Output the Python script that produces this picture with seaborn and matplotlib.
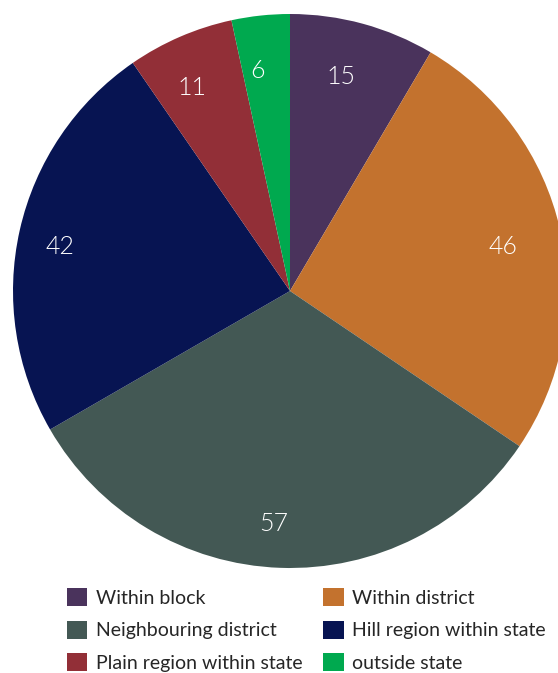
import matplotlib
matplotlib.use("Agg")
import seaborn as sns
from matplotlib import pyplot as plt
from matplotlib.patches import Patch

categories = [
    "Within block",
    "Within district",
    "Neighbouring district",
    "Hill region within state",
    "Plain region within state",
    "outside state",
]
values = [15, 46, 57, 42, 11, 6]
colors = ["#4a335c", "#c3722e", "#435854", "#071452", "#922f37", "#00a94f"]

sns.set_theme(style="white")
plt.rcParams["font.family"] = ["Lato", "DejaVu Sans"]

fig = plt.figure(figsize=(5.58, 6.73), dpi=100)
ax = fig.add_axes([13 / 558, 105 / 673, 554 / 558, 554 / 673])
wedges, texts = ax.pie(
    values,
    colors=sns.color_palette(colors),
    startangle=90,
    counterclock=False,
    labels=[str(v) for v in values],
    labeldistance=0.82,
    textprops={"color": "white", "fontsize": 18, "fontweight": 300},
    wedgeprops={"linewidth": 0},
    radius=1,
)
# nudge value labels slightly left/down like the original
for t in texts:
    x, y = t.get_position()
    t.set_position((x - 0.03, y - 0.02))
    t.set_ha("center")
    t.set_va("center")
ax.set_xlim(-1, 1)
ax.set_ylim(-1, 1)
ax.set_aspect("equal")
ax.axis("off")

# matplotlib fills legend columns first, so reorder to get row-wise layout
order = [0, 2, 4, 1, 3, 5]
handles = [Patch(facecolor=colors[i], edgecolor="none") for i in order]
labels = [categories[i] for i in order]
fig.legend(
    handles,
    labels,
    ncol=2,
    loc="upper left",
    bbox_to_anchor=(67 / 558, 1 - 588 / 673),
    frameon=False,
    fontsize=14,
    handlelength=1.05,
    handleheight=1.05,
    handletextpad=0.45,
    labelspacing=0.72,
    columnspacing=1.05,
    borderaxespad=0,
    borderpad=0,
)

fig.savefig("out.png", dpi=100)
